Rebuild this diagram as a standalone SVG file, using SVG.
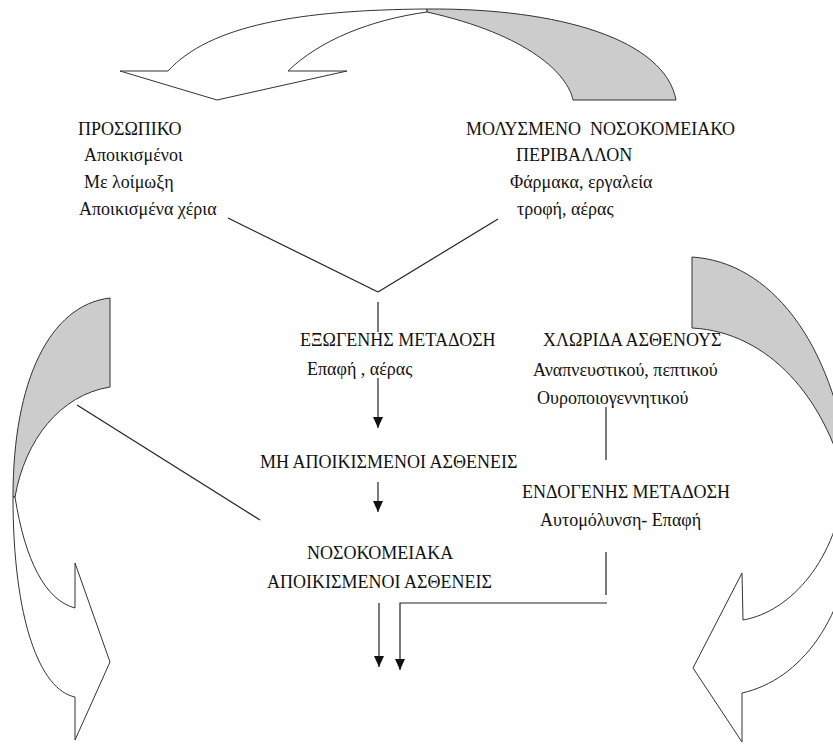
<svg xmlns="http://www.w3.org/2000/svg" width="833" height="744" viewBox="0 0 833 744">
<style>
text { font-family: "Liberation Serif", "DejaVu Serif", "Noto Serif", serif; font-size: 18px; fill: #111; white-space: pre; }
.shape { fill: #ffffff; stroke: #333; stroke-width: 1; }
.band { fill: #cccccc; stroke: #333; stroke-width: 1; }
.ln { fill: none; stroke: #222; stroke-width: 1.2; }
</style>
<defs>
<marker id="ah" markerWidth="12" markerHeight="10" refX="11" refY="5" orient="auto" markerUnits="userSpaceOnUse" viewBox="0 0 12 10">
<path d="M0,0 L11,5 L0,10 Z" fill="#111"/>
</marker>
</defs>
<rect width="833" height="744" fill="#fff"/>

<g id="arrow-top">
<path class="shape" d="M120,71 L168,71 C210,25 300,10 427,9 L427,12 C370,20 320,40 288,71 L347,71 L217,100 Z"/>
<path class="band" d="M427,9 C560,8 665,40 676,100 L573,100 C568,75 530,35 427,12 Z"/>
</g>

<g id="arrow-left">
<path class="band" d="M110,298 C50,305 13,380 13,497 L15,497 C25,440 60,395 110,387 Z"/>
<path class="shape" d="M13,497 C13,620 40,690 75,697 L75,740 L110,662 L75,563 L75,608 C45,600 25,560 15,497 Z"/>
</g>

<g id="arrow-right">
<path class="band" d="M692,257 C770,262 832,340 850,470 L845,480 C825,400 770,332 692,328 Z"/>
<path class="shape" d="M850,470 L855,520 C848,620 800,680 742,693 L742,742 L693,668 L742,573 L743,620 C790,612 838,560 845,480 Z"/>
</g>

<g id="connectors">
<line class="ln" x1="228" y1="218" x2="378" y2="292"/>
<line class="ln" x1="378" y1="292" x2="498" y2="219"/>
<line class="ln" x1="378" y1="302" x2="378" y2="332"/>
<line class="ln" x1="378" y1="378" x2="378" y2="428" marker-end="url(#ah)"/>
<line class="ln" x1="378" y1="482" x2="378" y2="512" marker-end="url(#ah)"/>
<line class="ln" x1="379" y1="603" x2="379" y2="667" marker-end="url(#ah)"/>
<polyline class="ln" points="607,603 400,603 400,670" marker-end="url(#ah)"/>
<line class="ln" x1="606" y1="407" x2="606" y2="460"/>
<line class="ln" x1="606" y1="552" x2="606" y2="595"/>
<line class="ln" x1="77" y1="405" x2="260" y2="520"/>
</g>

<g id="node-prosopiko">
<text x="78" y="135">ΠΡΟΣΩΠΙΚΟ</text>
<text x="84" y="161">Αποικισμένοι</text>
<text x="84" y="188">Με λοίμωξη</text>
<text x="79" y="215">Αποικισμένα χέρια</text>
</g>

<g id="node-perivallon">
<text x="466" y="135">ΜΟΛΥΣΜΕΝΟ  ΝΟΣΟΚΟΜΕΙΑΚΟ</text>
<text x="516" y="161">ΠΕΡΙΒΑΛΛΟΝ</text>
<text x="510" y="188">Φάρμακα, εργαλεία</text>
<text x="517" y="215">τροφή, αέρας</text>
</g>

<g id="node-exogenis">
<text x="300" y="346">ΕΞΩΓΕΝΗΣ ΜΕΤΑΔΟΣΗ</text>
<text x="307" y="375">Επαφή , αέρας</text>
</g>

<g id="node-chlorida">
<text x="543" y="346">ΧΛΩΡΙΔΑ ΑΣΘΕΝΟΥΣ</text>
<text x="533" y="376">Αναπνευστικού, πεπτικού</text>
<text x="537" y="404">Ουροποιογεννητικού</text>
</g>

<g id="node-mi-apoikismenoi">
<text x="260" y="468">ΜΗ ΑΠΟΙΚΙΣΜΕΝΟΙ ΑΣΘΕΝΕΙΣ</text>
</g>

<g id="node-endogenis">
<text x="522" y="498">ΕΝΔΟΓΕΝΗΣ ΜΕΤΑΔΟΣΗ</text>
<text x="540" y="526">Αυτομόλυνση- Επαφή</text>
</g>

<g id="node-nosokomeiaka">
<text x="307" y="559">ΝΟΣΟΚΟΜΕΙΑΚΑ</text>
<text x="267" y="588">ΑΠΟΙΚΙΣΜΕΝΟΙ ΑΣΘΕΝΕΙΣ</text>
</g>
</svg>
